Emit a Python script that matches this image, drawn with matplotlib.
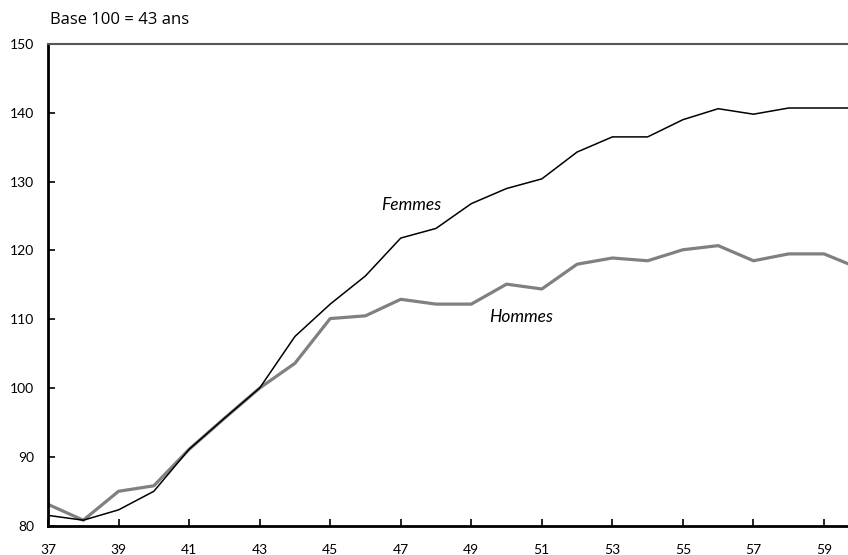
import numpy as np
import matplotlib
matplotlib.use("Agg")
import matplotlib.pyplot as plt

# ages (années) and indices, base 100 = 43 ans
ages = [37, 38, 39, 40, 41, 42, 43, 44, 45, 46, 47, 48, 49, 50, 51, 52, 53, 54, 55, 56, 57, 58, 59, 60]
femmes = [81.5, 80.8, 82.3, 85.0, 91.1, 95.6, 100.0, 107.5, 112.2, 116.3, 121.8, 123.2, 126.8, 129.0, 130.4,
          134.3, 136.5, 136.5, 139.0, 140.6, 139.8, 140.7, 140.7, 140.7]
hommes = [83.1, 80.8, 85.0, 85.8, 91.1, 95.6, 100.0, 103.6, 110.1, 110.5, 112.9, 112.2, 112.2, 115.1, 114.4,
          118.0, 118.9, 118.5, 120.1, 120.7, 118.5, 119.5, 119.5, 117.4]
xticks = list(range(37, 60, 2))
yticks = list(range(80, 151, 10))

plt.rcParams["font.family"] = ["Lato", "DejaVu Sans"]

fig = plt.figure(figsize=(8.48, 5.55), dpi=100)
ax = fig.add_axes([48 / 848, 1 - 525.7 / 555, 1 - 48 / 848, (525.7 - 44) / 555])

ax.plot(ages, femmes, color="black", lw=1.1, zorder=3)
ax.plot(ages, hommes, color="#808080", lw=2.3, zorder=2)

ax.set_xlim(37, 59.68)
ax.set_ylim(80, 150)
ax.set_xticks(xticks)
ax.set_yticks(yticks)

ax.tick_params(axis="x", direction="in", length=5, width=1.2, pad=13, labelsize=10)
ax.tick_params(axis="y", direction="in", length=5, width=1.2, pad=10, labelsize=10)

for side in ["left", "bottom"]:
    ax.spines[side].set_linewidth(2)
    ax.spines[side].set_color("black")
ax.spines["top"].set_linewidth(1.5)
ax.spines["top"].set_color("#555555")
ax.spines["right"].set_visible(False)

ax.text(47.3, 126.6, "Femmes", fontsize=12.5, style="italic", ha="center", va="center")
ax.text(50.4, 110.4, "Hommes", fontsize=12.5, style="italic", ha="center", va="center")

fig.text(50 / 848, 1 - 20 / 555, "Base 100 = 43 ans", fontsize=12, family="Open Sans",
         ha="left", va="center")

fig.savefig("out.png", dpi=100)
